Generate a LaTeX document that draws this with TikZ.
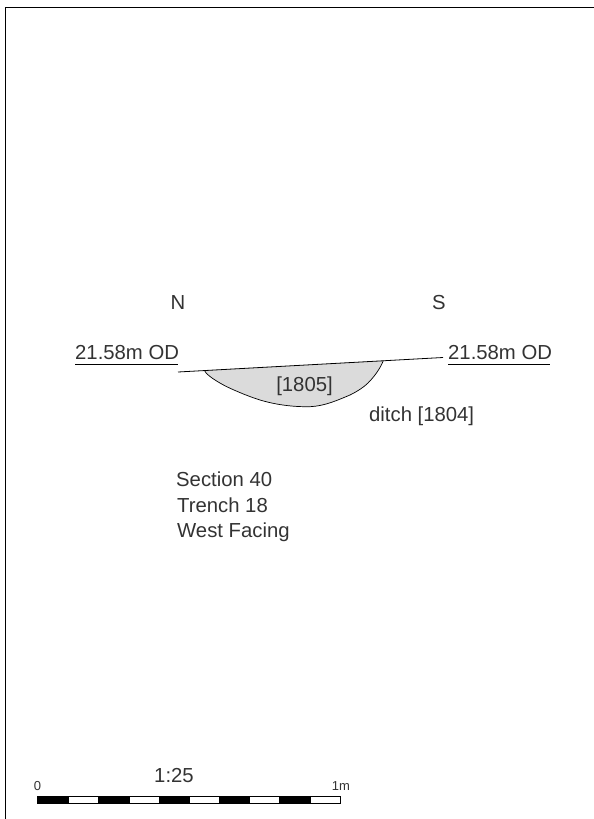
\documentclass[tikz,border=0pt]{standalone}
\usepackage{fontspec}
\setmainfont{Liberation Sans}
\definecolor{fillgrey}{gray}{0.86}
\definecolor{txtgrey}{gray}{0.2}
\tikzset{
  lbl/.style={anchor=base west,inner sep=0pt,text=txtgrey,font=\fontsize{20.3}{22}\selectfont},
  small/.style={anchor=base,inner sep=0pt,text=txtgrey,font=\fontsize{13}{15}\selectfont}
}
\begin{document}
\begin{tikzpicture}[x=1pt,y=-1pt]
 \useasboundingbox (0,0) rectangle (594,819);
 \draw[line width=1pt] (5.5,819)--(5.5,7)--(594,7);
 % ground line and cut
 \draw[fill=fillgrey,line width=0.7pt] (204.3,370.3) .. controls (205.5,373) and (210,378) .. (226.7,386.7) .. controls (238,392) and (249,396.5) .. (260,400) .. controls (275,404.5) and (292,407) .. (310,406.7) .. controls (325,406) and (338,400) .. (350,395) .. controls (358,391) and (364,387) .. (368,383) .. controls (374,377) and (380,369) .. (383.3,360.7);
 \draw[line width=0.8pt] (178,372)--(443,357.5);
 \draw[line width=0.8pt] (75.3,364.3)--(177.7,364.3);
 \draw[line width=0.8pt] (448.3,364.3)--(550,364.3);
 \draw node[lbl,anchor=base] (north) at (178,309) {N};
 \draw node[lbl,anchor=base] (south) at (439,309) {S};
 \draw node[lbl] (levelN) at (75,359) {21.58m OD};
 \draw node[lbl] (levelS) at (448,359) {21.58m OD};
 \draw node[lbl,anchor=base] (fill) at (304.5,391) {[1805]};
 \draw node[lbl] (cut) at (369,421) {ditch [1804]};
 \draw node[lbl] (section) at (176,486) {Section 40};
 \draw node[lbl] (trench) at (177,512) {Trench 18};
 \draw node[lbl] (facing) at (177,537) {West Facing};
 % scale bar
 \draw[line width=0.7pt] (37.7,796.7) rectangle (340.7,803.3);
 \foreach \a/\b in {37.7/69,98/129.7,158.7/189.7,219/250,279/311}
  \fill (\a,796.7) rectangle (\b,803.3);
 \draw node[lbl,anchor=base] (ratio) at (174,782) {1:25};
 \draw node[small] (zero) at (37.5,790) {0};
 \draw node[small] (onem) at (341,790) {1m};
\end{tikzpicture}
\end{document}
